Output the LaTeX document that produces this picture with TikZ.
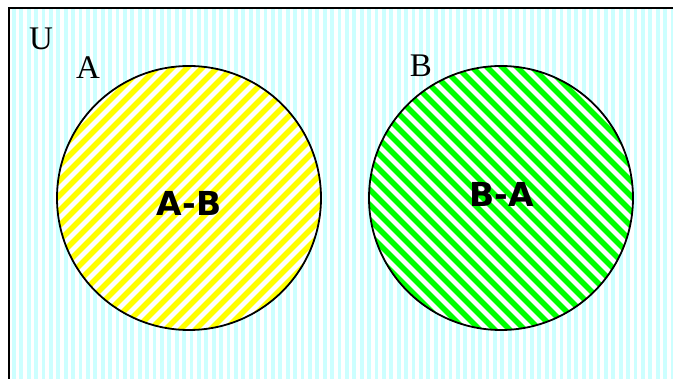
\documentclass[tikz,border=0pt]{standalone}
\usepackage{fontspec}
\setmainfont{Liberation Serif}
\newfontfamily\labfont{DejaVu Sans}
\definecolor{bgcyan}{RGB}{204,255,255}
\definecolor{ayellow}{RGB}{255,255,0}
\definecolor{bgreen}{RGB}{0,255,0}
\tikzset{
  setlabel/.style={inner sep=0pt, font=\fontsize{33}{34}\selectfont},
  difflabel/.style={inner sep=0pt, font=\labfont\bfseries\fontsize{33}{34}\selectfont},
  setcircle/.style={draw=black, line width=1.8pt},
}
\begin{document}
\begin{tikzpicture}[x=1pt,y=-1pt]
\useasboundingbox (0,0) rectangle (673,379);
% background stripes
\fill[white] (9,8) rectangle (690,395);
\begin{scope}
\clip (9,8) rectangle (690,395);
\foreach \i in {0,...,92}{
  \fill[bgcyan] ({12+7.4*\i},8) rectangle ({15.8+7.4*\i},395);
}
\end{scope}
\draw[line width=2.8pt] (9,395) -- (9,8) -- (690,8);
% circle A
\coordinate (ca) at (189,198);
\coordinate (cb) at (501,198);
\begin{scope}
\clip (ca) circle (132pt);
\fill[white] (ca) circle (132pt);
\foreach \k in {0,15,...,780}{
  \draw[ayellow, line width=5.5pt] (\k,0) -- ({\k-420},420);
}
\end{scope}
\draw[setcircle] (ca) circle (132pt);
% circle B
\begin{scope}
\clip (cb) circle (132pt);
\fill[white] (cb) circle (132pt);
\foreach \k in {0,15,...,780}{
  \draw[bgreen, line width=5.5pt] (\k,0) -- ({\k+420},420);
}
\end{scope}
\draw[setcircle] (cb) circle (132pt);
% labels
\node[setlabel] (u) at (41,39) {U};
\node[setlabel] (a) at (88,68) {A};
\node[setlabel] (b) at (421,66) {B};
\node[difflabel] (amb) at (189,203) {A-B};
\node[difflabel] (bma) at (502,194) {B-A};
\end{tikzpicture}
\end{document}
